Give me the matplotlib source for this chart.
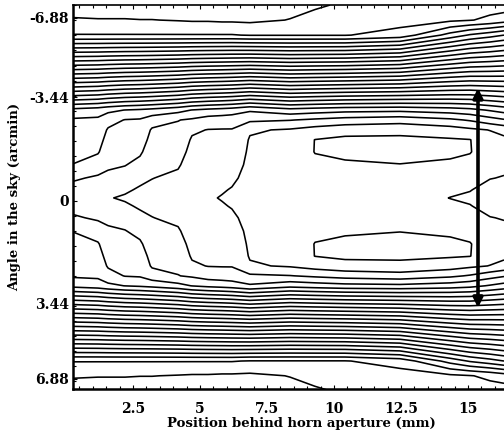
import numpy as np
import matplotlib
matplotlib.use('Agg')
import matplotlib.pyplot as plt
from matplotlib.ticker import MultipleLocator

# grid columns: position behind horn aperture (mm)
x_mm = [0.26, 1.19, 1.57, 2.20, 2.76, 3.21, 4.18, 4.70, 5.30, 5.82,
        6.19, 6.86, 8.36, 9.29, 10.41, 12.46, 14.33, 15.07, 15.82, 16.34]

# grid rows: angle in the sky (arcmin)
y_arcmin = [-6.51, -6.01, -5.51, -3.02, -2.69, -2.36, -2.03, -1.63, -1.20, -0.76, -0.37, -0.10,
            0.17, 0.56, 1.00, 1.43, 1.83, 2.16, 2.49, 2.82, 5.32, 5.81, 6.31]

# field level (one row per y, one value per x)
field = [
    [0.40, 0.40, 0.40, 0.40, 0.45, 0.45, 0.50, 0.50, 0.55, 0.55, 0.55, 0.60, 0.70, 0.85, 1.15, 1.30, 1.50, 1.60, 1.60, 1.50],
    [1.12, 1.06, 1.06, 1.06, 1.02, 1.02, 0.95, 0.90, 0.90, 0.85, 0.85, 0.80, 1.03, 1.35, 1.50, 1.60, 1.80, 1.95, 2.20, 2.50],
    [2.05, 2.05, 2.05, 2.05, 2.05, 2.05, 2.05, 2.05, 2.05, 2.05, 2.05, 1.95, 1.95, 1.95, 1.95, 2.40, 4.37, 5.11, 5.60, 6.00],
    [19.31, 19.53, 19.76, 20.02, 20.14, 20.29, 20.67, 21.03, 21.25, 21.38, 21.50, 21.86, 21.33, 21.50, 21.67, 21.75, 21.50, 21.30, 20.90, 20.60],
    [20.13, 20.18, 20.64, 21.04, 21.10, 21.56, 21.97, 22.14, 22.44, 22.50, 22.55, 22.82, 22.96, 23.17, 23.40, 23.60, 23.20, 22.90, 22.40, 22.10],
    [20.33, 20.41, 21.10, 21.24, 21.33, 22.11, 22.20, 22.86, 23.03, 23.05, 23.05, 23.89, 24.10, 24.40, 24.64, 24.70, 24.45, 24.20, 23.97, 23.70],
    [20.52, 20.64, 21.32, 21.45, 21.57, 22.29, 22.40, 23.10, 23.12, 23.15, 23.20, 24.08, 24.25, 25.02, 25.20, 25.22, 25.10, 25.03, 24.35, 24.20],
    [20.75, 20.91, 21.57, 21.69, 21.86, 22.51, 22.64, 23.26, 23.27, 23.35, 23.40, 24.15, 24.35, 25.03, 25.20, 25.25, 25.12, 25.05, 24.45, 24.30],
    [21.02, 21.50, 21.85, 21.96, 22.28, 22.75, 22.90, 23.42, 23.43, 23.55, 23.60, 24.22, 24.40, 24.80, 24.88, 24.98, 24.90, 24.70, 24.30, 24.20],
    [21.87, 22.14, 22.22, 22.42, 22.80, 22.98, 23.20, 23.59, 23.60, 23.75, 23.85, 24.28, 24.45, 24.70, 24.72, 24.75, 24.50, 24.30, 24.03, 23.95],
    [22.33, 22.57, 22.66, 22.88, 23.10, 23.20, 23.50, 23.74, 23.78, 23.93, 24.05, 24.33, 24.50, 24.62, 24.62, 24.60, 24.20, 24.04, 23.70, 23.65],
    [22.60, 22.85, 22.95, 23.10, 23.30, 23.45, 23.70, 23.85, 23.90, 24.05, 24.15, 24.35, 24.50, 24.60, 24.58, 24.55, 23.98, 23.85, 23.60, 23.50],
    [22.33, 22.57, 22.66, 22.88, 23.10, 23.20, 23.50, 23.74, 23.78, 23.93, 24.05, 24.33, 24.50, 24.62, 24.62, 24.60, 24.20, 24.04, 23.70, 23.65],
    [21.87, 22.14, 22.22, 22.42, 22.80, 22.98, 23.20, 23.59, 23.60, 23.75, 23.85, 24.28, 24.45, 24.70, 24.72, 24.75, 24.50, 24.30, 24.03, 23.95],
    [21.02, 21.50, 21.85, 21.96, 22.28, 22.75, 22.90, 23.42, 23.43, 23.55, 23.60, 24.22, 24.40, 24.80, 24.88, 24.98, 24.90, 24.70, 24.30, 24.20],
    [20.75, 20.91, 21.57, 21.69, 21.86, 22.51, 22.64, 23.26, 23.27, 23.35, 23.40, 24.15, 24.35, 25.03, 25.20, 25.25, 25.12, 25.05, 24.45, 24.30],
    [20.52, 20.64, 21.32, 21.45, 21.57, 22.29, 22.40, 23.10, 23.12, 23.15, 23.20, 24.08, 24.25, 25.02, 25.20, 25.22, 25.10, 25.03, 24.35, 24.20],
    [20.33, 20.41, 21.10, 21.24, 21.33, 22.11, 22.20, 22.86, 23.03, 23.05, 23.05, 23.89, 24.10, 24.40, 24.64, 24.70, 24.45, 24.20, 23.97, 23.70],
    [20.13, 20.18, 20.64, 21.04, 21.10, 21.56, 21.97, 22.14, 22.44, 22.50, 22.55, 22.82, 22.96, 23.17, 23.40, 23.60, 23.20, 22.90, 22.40, 22.10],
    [19.31, 19.53, 19.76, 20.02, 20.14, 20.29, 20.67, 21.03, 21.25, 21.38, 21.50, 21.86, 21.33, 21.50, 21.67, 21.75, 21.50, 21.30, 20.90, 20.60],
    [2.05, 2.05, 2.05, 2.05, 2.05, 2.05, 2.05, 2.05, 2.05, 2.05, 2.05, 1.95, 1.95, 1.95, 1.95, 2.40, 4.37, 5.11, 5.60, 6.00],
    [1.12, 1.06, 1.06, 1.06, 1.02, 1.02, 0.95, 0.90, 0.90, 0.85, 0.85, 0.80, 1.03, 1.35, 1.50, 1.60, 1.80, 1.95, 2.20, 2.50],
    [0.40, 0.40, 0.40, 0.40, 0.45, 0.45, 0.50, 0.50, 0.55, 0.55, 0.55, 0.60, 0.70, 0.85, 1.15, 1.30, 1.50, 1.60, 1.60, 1.50],
]
levels = list(range(1, 26))

# tick labels as printed on the original axes
x_ticks = [2.5, 5, 7.5, 10, 12.5, 15]
x_ticklabels = ['2.5', '5', '7.5', '10', '12.5', '15']
y_ticks = [-6.08, -3.44, 0, 3.42, 5.91]
y_ticklabels = ['-6.88', '-3.44', '0', '3.44', '6.88']

# scan direction arrow
arrow_x = 15.37
arrow_top = -3.75
arrow_bottom = 3.55

plt.rcParams['font.family'] = ['DejaVu Serif']
plt.rcParams['font.weight'] = 'bold'

fig = plt.figure(figsize=(5.04, 4.37), dpi=100)
ax = fig.add_axes([0.1448, 0.1098, 0.8552, 0.8787])

X, Y = np.meshgrid(x_mm, y_arcmin)
ax.contour(X, Y, np.array(field), levels=levels, colors='black', linewidths=1.15)

ax.annotate('', xy=(arrow_x, arrow_top), xytext=(arrow_x, arrow_bottom),
            arrowprops=dict(arrowstyle='<|-|>', lw=2.6, color='black', mutation_scale=14,
                            shrinkA=0, shrinkB=0))

ax.set_xlim(0.26, 16.34)
ax.set_ylim(6.25, -6.51)

ax.set_xticks(x_ticks)
ax.set_xticklabels(x_ticklabels)
ax.set_yticks(y_ticks)
ax.set_yticklabels(y_ticklabels)
ax.xaxis.set_minor_locator(MultipleLocator(0.5))
ax.yaxis.set_minor_locator(MultipleLocator(0.5))
ax.tick_params(which='both', direction='in', top=True, right=False, width=0.8)
ax.tick_params(which='major', length=3)
ax.tick_params(which='minor', length=2)
ax.tick_params(axis='x', which='major', pad=9, labelsize=10)
ax.tick_params(axis='y', which='major', pad=3, labelsize=10)

ax.spines['right'].set_visible(False)
ax.spines['left'].set_linewidth(1.8)
ax.spines['bottom'].set_linewidth(1.8)
ax.spines['top'].set_linewidth(1.2)

ax.set_xlabel('Position behind horn aperture (mm)', fontsize=9.5, fontweight='bold')
ax.xaxis.set_label_coords(0.531, -0.072)
ax.set_ylabel('Angle in the sky (arcmin)', fontsize=9.5, fontweight='bold', labelpad=6)

fig.savefig('out.png', dpi=100)
